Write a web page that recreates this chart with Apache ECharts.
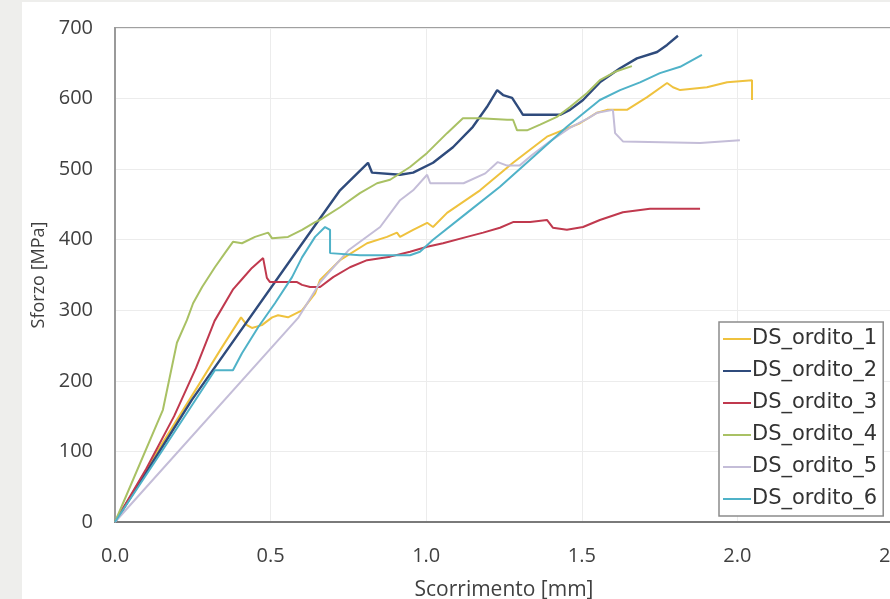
<!DOCTYPE html>
<html>
<head>
<meta charset="utf-8">
<script src="https://cdn.jsdelivr.net/npm/echarts@6/dist/echarts.min.js"></script>
<style>
html,body{margin:0;padding:0;background:#ffffff;}
#chart{width:890px;height:599px;}
</style>
</head>
<body>
<div id="chart"></div>
<script>
// Tick labels
const xTicks = [0.0, 0.5, 1.0, 1.5, 2.0, 2.5];
const yTicks = [0, 100, 200, 300, 400, 500, 600, 700];

const seriesNames = ['DS_ordito_1','DS_ordito_2','DS_ordito_3','DS_ordito_4','DS_ordito_5','DS_ordito_6'];

// [slip mm, stress MPa]
const ds1 = [[0,0],[0.15,110],[0.27,195],[0.34,245],[0.405,290],[0.424,279],[0.44,275],[0.472,279],[0.505,290],[0.524,293],[0.556,290],[0.601,300],[0.643,324],[0.659,343],[0.723,371],[0.81,395],[0.874,404],[0.906,410],[0.916,404],[0.958,414],[1.003,424],[1.022,418],[1.067,438],[1.173,470],[1.279,509],[1.388,546],[1.494,565],[1.549,580],[1.581,584],[1.645,584],[1.71,602],[1.774,622],[1.793,616],[1.816,612],[1.902,616],[1.967,623],[2.047,626],[2.047,598]];
const ds2 = [[0,0],[0.247,173],[0.594,390],[0.723,470],[0.813,509],[0.826,495],[0.916,492],[0.958,495],[1.022,509],[1.086,531],[1.15,560],[1.195,588],[1.228,612],[1.247,605],[1.276,601],[1.301,584],[1.311,577],[1.43,577],[1.462,584],[1.504,598],[1.558,623],[1.623,643],[1.677,657],[1.742,666],[1.774,676],[1.809,689]];
const ds3 = [[0,0],[0.10,75],[0.19,150],[0.26,218],[0.32,285],[0.38,330],[0.41,345],[0.44,360],[0.476,374],[0.488,346],[0.498,340],[0.585,340],[0.601,336],[0.627,333],[0.659,333],[0.701,347],[0.755,361],[0.81,371],[0.884,376],[0.948,383],[1.003,390],[1.054,395],[1.131,404],[1.183,410],[1.237,417],[1.279,425],[1.334,425],[1.388,428],[1.407,417],[1.452,414],[1.504,418],[1.558,428],[1.632,439],[1.719,444],[1.88,444]];
const ds4 = [[0,0],[0.154,159],[0.199,254],[0.231,286],[0.251,310],[0.28,333],[0.321,361],[0.353,381],[0.379,397],[0.408,395],[0.45,404],[0.492,410],[0.505,402],[0.556,404],[0.601,414],[0.643,425],[0.659,428],[0.723,446],[0.787,466],[0.842,480],[0.884,485],[0.948,503],[1.003,523],[1.067,551],[1.118,572],[1.173,572],[1.26,570],[1.279,570],[1.292,555],[1.324,555],[1.366,563],[1.42,574],[1.462,588],[1.517,608],[1.558,626],[1.607,638],[1.661,646]];
const ds5 = [[0,0],[0.59,290],[0.66,340],[0.75,385],[0.852,418],[0.916,456],[0.958,470],[1.003,492],[1.013,480],[1.12,480],[1.19,494],[1.23,510],[1.26,505],[1.30,505],[1.34,520],[1.40,540],[1.46,558],[1.52,572],[1.55,580],[1.60,584],[1.607,551],[1.633,539],[1.88,537],[2.008,541]];
const ds6 = [[0,0],[0.15,100],[0.321,215],[0.379,215],[0.408,239],[0.46,276],[0.514,310],[0.569,347],[0.601,375],[0.643,404],[0.675,418],[0.691,414],[0.691,381],[0.787,378],[0.948,378],[0.98,383],[1.022,400],[1.131,438],[1.237,475],[1.343,517],[1.452,560],[1.558,598],[1.623,612],[1.687,623],[1.751,636],[1.816,645],[1.886,662]];

const seriesData = [ds1, ds2, ds3, ds4, ds5, ds6];
const colors = ['#efc23e','#2f4b7c','#c0394e','#a9c164','#c4bdd8','#4fb2c8'];

const chart = echarts.init(document.getElementById('chart'), null, {renderer:'canvas'});
const font = 'Open Sans';

chart.setOption({
  animation: false,
  backgroundColor: '#ffffff',
  color: colors,
  graphic: [
    {type:'rect', left:0, top:0, shape:{width:22, height:599}, style:{fill:'#eeeeec'}, z:-10},
    {type:'rect', left:0, top:0, shape:{width:890, height:2}, style:{fill:'#eeeeec'}, z:-10}
  ],
  grid: {left:115, top:28, width:778, height:494, containLabel:false, outerBoundsMode:'none',
         show:true, borderColor:'#a0a0a0', borderWidth:2, backgroundColor:'transparent'},
  legend: {
    orient:'vertical', left:719, top:322,
    data: seriesNames,
    icon:'rect', itemWidth:28, itemHeight:2, itemGap:10,
    backgroundColor:'#ffffff', borderColor:'#8c8c8c', borderWidth:1.5,
    padding:[6,6,6,4],
    textStyle:{fontFamily:'DejaVu Sans', fontSize:21, color:'#333333', lineHeight:22, padding:[0,0,0,-4]}
  },
  xAxis: {
    type:'value', min:xTicks[0], max:xTicks[xTicks.length-1], interval:0.5,
    name:'Scorrimento [mm]', nameLocation:'middle', nameGap:58,
    nameTextStyle:{fontFamily:font, fontSize:21, color:'#404040'},
    axisLine:{show:true, onZero:false, lineStyle:{color:'#7a7a7a', width:2}},
    axisTick:{show:false},
    axisLabel:{fontFamily:font, fontSize:20, color:'#404040', margin:24, formatter:v=>v.toFixed(1)},
    splitLine:{show:true, lineStyle:{color:'#ececec', width:1}}
  },
  yAxis: {
    type:'value', min:yTicks[0], max:yTicks[yTicks.length-1], interval:100,
    name:'Sforzo [MPa]', nameLocation:'middle', nameGap:66,
    nameTextStyle:{fontFamily:font, fontSize:18, color:'#404040'},
    axisLine:{show:true, lineStyle:{color:'#9a9a9a', width:2}},
    axisTick:{show:false},
    axisLabel:{fontFamily:font, fontSize:20, color:'#404040', margin:22, formatter:v=>String(v)},
    splitLine:{show:true, lineStyle:{color:'#ececec', width:1}}
  },
  series: seriesNames.map((n,i)=>({
    name:n, type:'line', data:seriesData[i], showSymbol:false, symbol:'none',
    lineStyle:{width: i===1 ? 2.4 : 2, color:colors[i]},
    itemStyle:{color:colors[i]},
    z: 2+i
  }))
});
</script>
</body>
</html>
